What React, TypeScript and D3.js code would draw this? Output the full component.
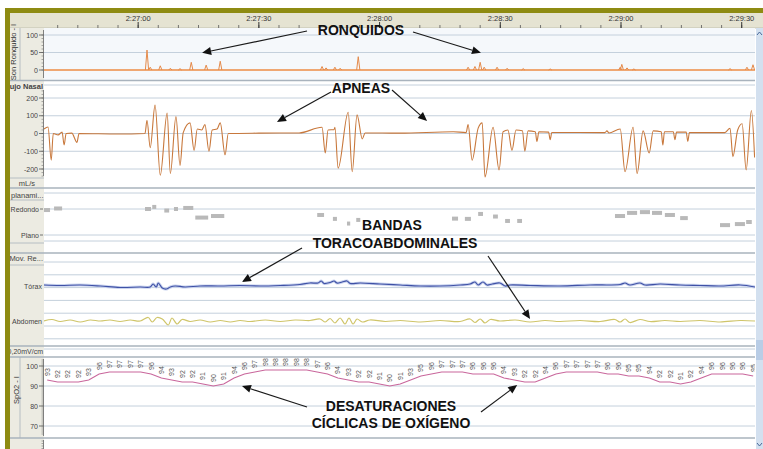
import * as d3 from "d3"

// ---- data ----
const timeLabels = ["2:27:00", "2:27:30", "2:28:00", "2:28:30", "2:29:00", "2:29:30"]
const timeLabelSecs = [0, 30, 60, 90, 120, 150]

const snoreTicks = [0, 50, 100]
// [segundos desde 2:27:00, amplitud]
const snoreSpikes: [number, number][] = [
  [2.2, 57], [3.0, 8], [5.5, 12], [8.0, 5], [10.4, 4], [13.2, 22], [16.9, 14], [20.4, 25],
  [45.7, 10], [46.7, 6], [48.9, 8], [50.2, 5], [54.7, 38],
  [82.0, 8], [83.7, 10], [85.0, 22], [86.0, 8], [89.2, 8], [91.7, 5], [95.7, 4], [102.4, 3],
  [119.8, 8], [120.2, 16], [121.5, 6], [123.2, 3], [147.1, 4], [151.3, 8], [152.8, 15],
]

const flowTicks = [-200, -100, 0, 100, 200]
const flow: [number, number][] = [
  [-23.4, 25], [-22.4, 37], [-21.6, -150], [-21.1, 0], [-19.9, -8], [-18.9, 8], [-18.4, -65], [-17.9, 0],
  [-16.5, 2], [-15.2, -50], [-14.7, 0], [-5, -3], [1.7, 0], [2.2, 75], [3.0, -80], [4.2, 160], [5.5, -235],
  [7.2, 115], [8.0, -225], [9.4, 95], [10.4, -180], [11.2, 5], [12.9, 60], [13.9, -95], [14.7, 25],
  [15.8, 20], [16.6, 50], [17.6, -100], [18.4, 20], [19.6, 25], [20.4, 60], [21.6, -120], [22.4, 0],
  [30, 2], [40, 3], [45.7, 35], [46.5, -110], [47.2, 20], [48.7, 22], [48.9, 35], [49.7, -195],
  [52.2, 120], [53.2, -215], [54.4, 105], [55.7, -30], [56.4, 3], [65, 2], [78.3, 10], [81.5, 5],
  [82.0, 50], [83.0, -150], [84.5, 30], [85.5, 60], [86.2, -245], [88.2, 35], [89.7, -205], [90.7, 10],
  [91.9, 20], [92.9, -95], [93.9, 20], [95.5, 15], [96.1, -100], [96.9, 15], [98.7, 10], [99.1, -45],
  [99.6, 10], [102.0, 8], [102.4, -35], [102.8, 6], [116.0, 5], [116.5, 15], [117, 3], [119.8, 25],
  [121.0, -215], [123.0, 35], [124.0, -225], [125.5, 15], [127.0, -110], [128.0, 15], [130.0, 10],
  [130.4, -65], [130.8, 10], [133.0, 10], [133.4, -35], [133.8, 8], [136.2, 8], [136.6, -45], [137.0, 5],
  [145.8, 5], [147.1, 30], [147.8, -130], [149, 20], [150.1, 55], [151.1, -205], [152.4, 130], [153.2, -135],
]

const positionLabels = ["Plano", "Redondo"]
// [inicio, fin, nivel] (0 = Plano, 1 = Redondo)
const positionBlocks: [number, number, number][] = [
  [-23.4, -21.9, 0.96], [-20.9, -18.9, 1.02], [1.7, 3.2, 1.0], [3.5, 4.5, 1.08], [6.5, 7.7, 0.94],
  [8.9, 9.9, 1.0], [11.2, 13.7, 1.04], [14.2, 17.4, 0.67], [18.1, 21.4, 0.73],
  [44.5, 46.2, 0.77], [48.4, 49.4, 0.62], [51.9, 52.7, 0.44], [54.2, 55.2, 0.58],
  [78.0, 79.5, 0.63], [81.2, 82.7, 0.62], [84.5, 85.7, 0.81], [88.2, 89.4, 0.71], [91.2, 92.4, 0.54],
  [94.2, 95.4, 0.54], [118.5, 121.0, 0.73], [121.5, 124.0, 0.85], [124.7, 127.2, 0.88],
  [127.7, 130.2, 0.85], [130.9, 133.4, 0.77], [134.7, 136.6, 0.65], [144.6, 147.1, 0.38],
  [148.3, 150.8, 0.42], [151.1, 152.5, 0.5],
]

const thorax: [number, number][] = [
  [-23.4, 1], [-19.4, 0.5], [-14.4, 1], [-9.4, 0], [-4.5, -1.5], [0.5, -1], [3.0, -1], [3.7, 2], [4.5, -1],
  [5.0, 3], [6.0, -2], [7.0, -3], [8.0, -1], [9.2, 0], [11.7, -1], [15.4, 0], [20.4, 0], [25.3, 0.5],
  [30.3, 0], [35.3, 0.5], [40.2, 1.5], [42.7, 3], [44.7, 3], [45.5, 5], [46.2, 2.5], [47.7, 3.5],
  [48.7, 5], [49.4, 3], [50.7, 4], [51.9, 5], [52.7, 2.5], [55.2, 3], [60.1, 2], [65.1, 1], [70.1, 0],
  [75.0, 0], [80.0, 1], [82.5, 2], [83.7, 4], [84.5, 1], [85.7, 4], [86.7, 1], [88.0, 2], [89.9, 3],
  [91.2, 0], [92.4, 1], [97.4, 0.5], [104.8, 0], [112.3, 1], [119.8, 1.5], [121.0, 3], [122.2, 1],
  [124.7, 3], [126.0, 1], [129.7, 2], [134.7, 1], [139.6, 0.5], [144.6, 0], [149.6, 1], [153.3, -1],
]

const abdomen: [number, number][] = [
  [-23.4, 0], [-21.4, 1.5], [-19.4, -0.5], [-16.9, 1], [-14.4, -1], [-11.9, 1], [-9.4, 0], [-7.0, 1],
  [-4.5, -0.5], [-2.0, 1], [0.5, 0], [2.5, 3.5], [3.5, -1], [4.7, 3.5], [6.0, 2], [7.5, -4], [8.4, 3],
  [9.7, -3], [10.9, 1.5], [12.9, -0.5], [15.4, 1], [17.9, -1], [20.4, 0.5], [22.9, -1], [25.3, 0.5],
  [27.8, -0.5], [31.6, 1], [35.3, -0.5], [39.0, 1], [42.7, 0.5], [45.2, 2], [46.5, -1], [47.7, 2.5],
  [48.9, -2], [50.2, 3], [51.4, -3], [52.4, 3], [53.4, -3], [54.4, 2], [55.7, -1], [57.6, 1],
  [61.4, -0.5], [65.1, 0.5], [70.1, -1], [75.0, 0.5], [80.0, -0.5], [82.5, 2], [83.7, -1.5], [85.0, 2],
  [86.2, -2], [87.5, 1.5], [89.9, 0], [93.7, 1], [97.4, -1], [101.1, 0.5], [104.8, -0.5], [109.8, 0.5],
  [114.8, -0.5], [118.5, 1.5], [119.8, -1], [121.0, 2], [122.2, -1.5], [124.7, 1.5], [127.2, -0.5],
  [130.9, 0.5], [134.7, -0.5], [139.6, 0.5], [144.6, -1], [149.6, 0.5], [153.3, 0],
]

const spo2Ticks = [70, 80, 90, 100]
const spo2Values = [
  93, 92, 92, 92, 93, 96, 97, 97, 97, 97, 96, 94, 93, 92, 92, 91, 90, 91, 94, 96,
  97, 98, 98, 98, 98, 98, 97, 96, 94, 93, 92, 92, 91, 90, 91, 93, 95, 96, 97, 97,
  97, 96, 96, 96, 94, 93, 92, 92, 94, 96, 97, 97, 97, 97, 96, 96, 95, 95, 94, 92,
  92, 91, 92, 94, 96, 96, 96, 96, 95,
]
const spo2Start = -22.6
const spo2Step = 2.58

// ---- layout ----
const W = 763
const H = 449
const X0 = 44
const X1 = 755
const olive = "#8e8b12"
const grid = "#c4d0dc"
const sep = "#a9b3bd"
const labelFont = "'Liberation Sans', Arial, sans-serif"

const x = d3.scaleLinear().domain([-23.4, 153.3]).range([X0, X1])
const ySnore = d3.scaleLinear().domain([0, 100]).range([70, 35])
const yFlow = d3.scaleLinear().domain([-200, 200]).range([169, 98])
const yPos = d3.scaleLinear().domain([0, 1]).range([235, 209])
const yThorax = d3.scaleLinear().domain([-10, 10]).range([296, 276])
const yAbd = d3.scaleLinear().domain([-10, 10]).range([331, 311])
const ySpo2 = d3.scaleLinear().domain([70, 100]).range([426, 366])

const spo2Time = (i: number) => spo2Start + i * spo2Step

function Arrow({ x1, y1, x2, y2 }: { x1: number; y1: number; x2: number; y2: number }) {
  const a = Math.atan2(y2 - y1, x2 - x1)
  const L = 9
  const w = 4
  const bx = x2 - L * Math.cos(a)
  const by = y2 - L * Math.sin(a)
  const p = `M${x2},${y2}L${bx + w * Math.sin(a)},${by - w * Math.cos(a)}L${bx - w * Math.sin(a)},${by + w * Math.cos(a)}Z`
  return (
    <g>
      <line x1={x1} y1={y1} x2={bx} y2={by} stroke="#1a1a1a" strokeWidth={1.2} />
      <path d={p} fill="#111" />
    </g>
  )
}

function Ruler({ scale, ticks, minor, top, bottom }: { scale: d3.ScaleLinear<number, number>; ticks: number[]; minor: number[]; top: number; bottom: number }) {
  return (
    <g>
      <line x1={43.5} x2={43.5} y1={top} y2={bottom} stroke="#666" strokeWidth={0.8} />
      {minor.map((m) => (
        <line key={"m" + m} x1={41.5} x2={43.5} y1={scale(m)} y2={scale(m)} stroke="#777" strokeWidth={0.6} />
      ))}
      {ticks.map((t) => (
        <g key={t}>
          <line x1={39} x2={43.5} y1={scale(t)} y2={scale(t)} stroke="#555" strokeWidth={0.8} />
          <text x={38} y={scale(t) + 2.5} textAnchor="end" fontSize={7} fill="#444" fontFamily={labelFont}>
            {t}
          </text>
        </g>
      ))}
    </g>
  )
}

export default function App() {
  const flowLine = d3.line<[number, number]>().x((d) => x(d[0])).y((d) => yFlow(d[1])).curve(d3.curveMonotoneX)
  const thoraxLine = d3.line<[number, number]>().x((d) => x(d[0])).y((d) => yThorax(d[1])).curve(d3.curveCatmullRom)
  const abdLine = d3.line<[number, number]>().x((d) => x(d[0])).y((d) => yAbd(d[1])).curve(d3.curveCatmullRom)
  const spoLine = d3.line<number>().x((_, i) => x(spo2Time(i))).y((d) => ySpo2(d))

  const minorSecs = d3.range(-20, 154, 5)
  const respRows = d3.range(262, 340, 12.8)

  return (
    <div style={{ position: "fixed", left: 0, top: 0 }}>
      <svg width={W} height={H} viewBox={`0 0 ${W} ${H}`} style={{ display: "block" }}>
        <defs>
          <clipPath id="labcol">
            <rect x={10} y={13} width={34} height={H} />
          </clipPath>
          <clipPath id="plot">
            <rect x={X0} y={28} width={X1 - X0} height={H - 28} />
          </clipPath>
        </defs>
        <rect width={W} height={H} fill="#fff" />

        {/* cabecera de tiempo */}
        <rect x={10} y={13} width={W - 10} height={15} fill="#e5e3d2" />
        <line x1={10} x2={W} y1={28} y2={28} stroke="#b9b7a6" strokeWidth={0.8} />
        {minorSecs.map((s) => (
          <line key={s} x1={x(s)} x2={x(s)} y1={25} y2={28} stroke="#555" strokeWidth={0.8} />
        ))}
        {timeLabelSecs.map((s, i) => (
          <g key={s}>
            <line x1={x(s)} x2={x(s)} y1={22} y2={28} stroke="#333" strokeWidth={1} />
            <text x={x(s)} y={21} textAnchor="middle" fontSize={7.5} fill="#333" fontFamily={labelFont}>
              {timeLabels[i]}
            </text>
          </g>
        ))}

        {/* columna de etiquetas */}
        <rect x={10} y={28} width={34} height={H - 28} fill="#ecebe2" />
        <rect x={X0} y={28} width={X1 - X0} height={52} fill="#f5f8fb" />

        {/* rejilla */}
        <g stroke={grid} strokeWidth={1}>
          {snoreTicks.filter((t) => t > 0).map((t) => (
            <line key={"s" + t} x1={X0} x2={X1} y1={ySnore(t)} y2={ySnore(t)} />
          ))}
          {flowTicks.map((t) => (
            <line key={"f" + t} x1={X0} x2={X1} y1={yFlow(t)} y2={yFlow(t)} />
          ))}
          <line x1={X0} x2={X1} y1={85} y2={85} />
          <line x1={X0} x2={X1} y1={193} y2={193} />
          {positionLabels.map((_, i) => (
            <line key={"p" + i} x1={X0} x2={X1} y1={yPos(i)} y2={yPos(i)} />
          ))}
          <line x1={X0} x2={X1} y1={241} y2={241} />
          {respRows.map((r) => (
            <line key={"r" + r} x1={X0} x2={X1} y1={r} y2={r} />
          ))}
          {spo2Ticks.map((t) => (
            <line key={"o" + t} x1={X0} x2={X1} y1={ySpo2(t)} y2={ySpo2(t)} />
          ))}
          <line x1={X0} x2={X1} y1={349} y2={349} />
        </g>

        {/* separadores de paneles */}
        <g stroke={sep}>
          {[80.5, 188, 253, 346, 357, 438].map((y) => (
            <line key={y} x1={10} x2={X1} y1={y} y2={y} strokeWidth={1.6} />
          ))}
          <line x1={10} x2={44} y1={178} y2={178} strokeWidth={0.8} />
          <line x1={10} x2={44} y1={200} y2={200} strokeWidth={0.8} />
          <line x1={10} x2={44} y1={243} y2={243} strokeWidth={0.8} />
          <line x1={10} x2={44} y1={265} y2={265} strokeWidth={0.8} />
          <line x1={20} x2={20} y1={28} y2={80} strokeWidth={0.8} />
          <line x1={20} x2={20} y1={357} y2={438} strokeWidth={0.8} />
        </g>

        {/* ejes y textos de la columna */}
        <Ruler scale={ySnore} ticks={snoreTicks} minor={d3.range(0, 101, 10)} top={30} bottom={78} />
        <Ruler scale={yFlow} ticks={flowTicks} minor={d3.range(-240, 241, 20)} top={90} bottom={176} />
        <Ruler scale={ySpo2} ticks={spo2Ticks} minor={d3.range(66, 104, 1)} top={359} bottom={436} />
        <line x1={43.5} x2={43.5} y1={440} y2={H} stroke="#666" strokeWidth={0.8} />
        {d3.range(441, H, 2.5).map((y) => (
          <line key={y} x1={41.5} x2={43.5} y1={y} y2={y} stroke="#777" strokeWidth={0.6} />
        ))}

        <g clipPath="url(#labcol)" fontFamily={labelFont} fill="#333">
          <text transform="translate(16,52) rotate(-90)" textAnchor="middle" fontSize={7.5}>
            Son Ronquido - I
          </text>
          <text x={43} y={89} textAnchor="end" fontSize={7.5} fontWeight="bold" fill="#444">
            Flujo Nasal
          </text>
          <text x={27} y={186} textAnchor="middle" fontSize={7.5} fill="#444">
            mL/s
          </text>
          <text x={11} y={198} textAnchor="start" fontSize={7.5} fill="#444">
            planami...
          </text>
          {positionLabels.map((l, i) => (
            <g key={l}>
              <text x={39} y={yPos(i) + 2.5} textAnchor="end" fontSize={7} fill="#444">
                {l}
              </text>
              <line x1={40} x2={43} y1={yPos(i)} y2={yPos(i)} stroke="#555" strokeWidth={0.8} />
            </g>
          ))}
          <text x={43} y={261} textAnchor="end" fontSize={7.5} fill="#444">
            Mov. Re...
          </text>
          <text x={42} y={yThorax(0) + 2.5} textAnchor="end" fontSize={7} fill="#444">
            Tórax
          </text>
          <text x={42} y={yAbd(0) + 2.5} textAnchor="end" fontSize={7} fill="#444">
            Abdomen
          </text>
          <text x={43} y={354} textAnchor="end" fontSize={7} fill="#444">
            0,20mV/cm
          </text>
          <text transform="translate(19,390) rotate(-90)" textAnchor="middle" fontSize={7.5}>
            SpO2 - I
          </text>
        </g>

        {/* señales */}
        <g clipPath="url(#plot)">
          <line x1={X0} x2={X1} y1={ySnore(0)} y2={ySnore(0)} stroke="#ec8c45" strokeWidth={1.3} />
          {snoreSpikes.map(([t, v], i) => (
            <path
              key={i}
              d={`M${x(t - 0.4)},${ySnore(0)}L${x(t)},${ySnore(v)}L${x(t + 0.4)},${ySnore(0)}`}
              fill="none"
              stroke="#e58a4a"
              strokeWidth={1}
            />
          ))}

          <path d={flowLine(flow) ?? ""} fill="none" stroke="#c8783c" strokeWidth={1.1} />

          {positionBlocks.map(([t0, t1, lv], i) => (
            <rect key={i} x={x(t0)} y={yPos(lv) - 2} width={x(t1) - x(t0)} height={4} fill="#b9b9b9" />
          ))}

          <path d={thoraxLine(thorax) ?? ""} fill="none" stroke="#c9d3ee" strokeWidth={3} />
          <path d={thoraxLine(thorax) ?? ""} fill="none" stroke="#3f51a6" strokeWidth={1.2} />
          <path d={abdLine(abdomen) ?? ""} fill="none" stroke="#cfc56a" strokeWidth={1.2} />

          <path d={spoLine(spo2Values) ?? ""} fill="none" stroke="#c9679c" strokeWidth={1.1} />
          {spo2Values.map((v, i) => (
            <text
              key={i}
              transform={`translate(${x(spo2Time(i)) + 2.5},${ySpo2(v) - 8}) rotate(-90)`}
              textAnchor="middle"
              fontSize={7}
              fill="#555"
              fontFamily={labelFont}
            >
              {v}
            </text>
          ))}
        </g>

        {/* barra de desplazamiento */}
        <rect x={756} y={28} width={7} height={H - 28} fill="#d3e0ef" />
        <rect x={756} y={340} width={7} height={20} fill="#b9cde6" />
        <path d="M757,35L759.5,32L762,35" fill="none" stroke="#4a6a9a" strokeWidth={1} />
        <path d="M757,443L759.5,446L762,443" fill="none" stroke="#4a6a9a" strokeWidth={1} />

        {/* marco oliva */}
        <rect x={5} y={8} width={W - 5} height={5} fill={olive} />
        <rect x={5} y={8} width={5} height={H - 8} fill={olive} />

        {/* anotaciones */}
        <g fontFamily="'Liberation Sans', Arial, sans-serif" fontWeight="bold" fontSize={14} fill="#111" textAnchor="middle">
          <text x={361} y={35}>RONQUIDOS</text>
          <text x={361} y={93}>APNEAS</text>
          <text x={392} y={230}>BANDAS</text>
          <text x={395} y={248}>TORACOABDOMINALES</text>
          <text x={391} y={411}>DESATURACIONES</text>
          <text x={391} y={428}>CÍCLICAS DE OXÍGENO</text>
        </g>
        <Arrow x1={307} y1={31} x2={x(15.9)} y2={ySnore(49)} />
        <Arrow x1={413} y1={32} x2={x(85.2)} y2={ySnore(49)} />
        <Arrow x1={331} y1={92} x2={x(34.5)} y2={yFlow(65)} />
        <Arrow x1={392} y1={90} x2={x(71.8)} y2={yFlow(70)} />
        <Arrow x1={302} y1={248} x2={x(25.8)} y2={yThorax(4)} />
        <Arrow x1={488} y1={256} x2={x(97.4)} y2={yAbd(2)} />
        <Arrow x1={307} y1={407} x2={x(25.8)} y2={ySpo2(90)} />
        <Arrow x1={481} y1={412} x2={x(94.2)} y2={ySpo2(90.5)} />
      </svg>
    </div>
  )
}
